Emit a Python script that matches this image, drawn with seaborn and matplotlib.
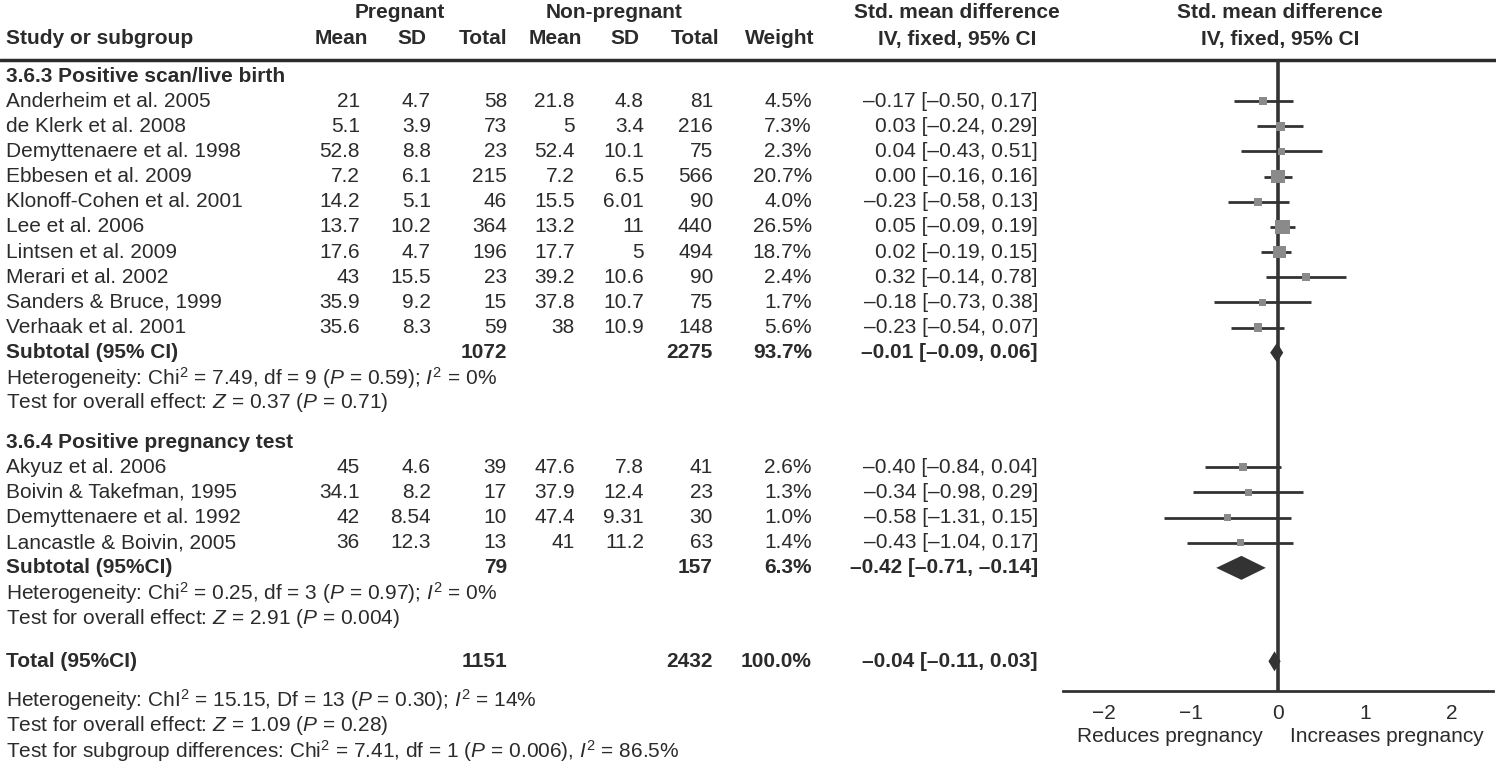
import matplotlib
matplotlib.use("Agg")
import matplotlib.pyplot as plt
import seaborn as sns
import pandas as pd

# ---------------------------------------------------------------- data
group_titles = ["3.6.3 Positive scan/live birth", "3.6.4 Positive pregnancy test"]

studies_a = ["Anderheim et al. 2005", "de Klerk et al. 2008", "Demyttenaere et al. 1998",
             "Ebbesen et al. 2009", "Klonoff-Cohen et al. 2001", "Lee et al. 2006",
             "Lintsen et al. 2009", "Merari et al. 2002", "Sanders & Bruce, 1999",
             "Verhaak et al. 2001"]
preg_mean_a = [21, 5.1, 52.8, 7.2, 14.2, 13.7, 17.6, 43, 35.9, 35.6]
preg_sd_a = [4.7, 3.9, 8.8, 6.1, 5.1, 10.2, 4.7, 15.5, 9.2, 8.3]
preg_n_a = [58, 73, 23, 215, 46, 364, 196, 23, 15, 59]
np_mean_a = [21.8, 5, 52.4, 7.2, 15.5, 13.2, 17.7, 39.2, 37.8, 38]
np_sd_a = [4.8, 3.4, 10.1, 6.5, 6.01, 11, 5, 10.6, 10.7, 10.9]
np_n_a = [81, 216, 75, 566, 90, 440, 494, 90, 75, 148]
weight_a = [4.5, 7.3, 2.3, 20.7, 4.0, 26.5, 18.7, 2.4, 1.7, 5.6]
smd_a = [-0.17, 0.03, 0.04, 0.00, -0.23, 0.05, 0.02, 0.32, -0.18, -0.23]
lo_a = [-0.50, -0.24, -0.43, -0.16, -0.58, -0.09, -0.19, -0.14, -0.73, -0.54]
hi_a = [0.17, 0.29, 0.51, 0.16, 0.13, 0.19, 0.15, 0.78, 0.38, 0.07]

studies_b = ["Akyuz et al. 2006", "Boivin & Takefman, 1995", "Demyttenaere et al. 1992",
             "Lancastle & Boivin, 2005"]
preg_mean_b = [45, 34.1, 42, 36]
preg_sd_b = [4.6, 8.2, 8.54, 12.3]
preg_n_b = [39, 17, 10, 13]
np_mean_b = [47.6, 37.9, 47.4, 41]
np_sd_b = [7.8, 12.4, 9.31, 11.2]
np_n_b = [41, 23, 30, 63]
weight_b = [2.6, 1.3, 1.0, 1.4]
smd_b = [-0.40, -0.34, -0.58, -0.43]
lo_b = [-0.84, -0.98, -1.31, -1.04]
hi_b = [0.04, 0.29, 0.15, 0.17]

sub_labels = ["Subtotal (95% CI)", "Subtotal (95%CI)"]
sub_preg_n = [1072, 79]
sub_np_n = [2275, 157]
sub_weight = [93.7, 6.3]
sub_smd = [-0.01, -0.42]
sub_lo = [-0.09, -0.71]
sub_hi = [0.06, -0.14]
sub_het = ["Heterogeneity: Chi$^{2}$ = 7.49, df = 9 ($P$ = 0.59); $I^{2}$ = 0%",
           "Heterogeneity: Chi$^{2}$ = 0.25, df = 3 ($P$ = 0.97); $I^{2}$ = 0%"]
sub_test = ["Test for overall effect: $Z$ = 0.37 ($P$ = 0.71)",
            "Test for overall effect: $Z$ = 2.91 ($P$ = 0.004)"]

total_label = "Total (95%CI)"
total_preg_n = 1151
total_np_n = 2432
total_weight = 100.0
total_smd, total_lo, total_hi = -0.04, -0.11, 0.03
total_notes = ["Heterogeneity: ChI$^{2}$ = 15.15, Df = 13 ($P$ = 0.30); $I^{2}$ = 14%",
               "Test for overall effect: $Z$ = 1.09 ($P$ = 0.28)",
               "Test for subgroup differences: Chi$^{2}$ = 7.41, df = 1 ($P$ = 0.006), $I^{2}$ = 86.5%"]

# ---------------------------------------------------------------- style
sns.set_style("white")
plt.rcParams["font.family"] = ["Liberation Sans", "DejaVu Sans"]
plt.rcParams["mathtext.fontset"] = "custom"
plt.rcParams["mathtext.rm"] = "Liberation Sans"
plt.rcParams["mathtext.it"] = "Liberation Sans:italic"
plt.rcParams["mathtext.bf"] = "Liberation Sans:bold"
INK = "#2b2b2b"
FS = 15

W, H = 1496, 766
fig = plt.figure(figsize=(W / 100, H / 100), dpi=100)
ax = fig.add_axes([0, 0, 1, 1])
ax.set_xlim(0, W)
ax.set_ylim(H, 0)
ax.axis("off")

# column right edges (pixels) for the table
cols = [360, 431, 507, 575, 644, 713, 812, 1038]
hdr_centers = [341, 412, 483, 555, 625, 695, 780, 957]


def fmt_ci(e, l, h):
    return f"{e:.2f} [{l:.2f}, {h:.2f}]".replace("-", "\u2013")


def put(x, y, s, ha="left", bold=False):
    ax.text(x, y, s, ha=ha, va="center", fontsize=FS, color=INK,
            fontweight="bold" if bold else "normal")


# header
put(400, 12, "Pregnant", ha="center", bold=True)
put(614, 12, "Non-pregnant", ha="center", bold=True)
put(957, 12, "Std. mean difference", ha="center", bold=True)
put(1280, 12, "Std. mean difference", ha="center", bold=True)
put(6, 39, "Study or subgroup", bold=True)
for c, lab in zip(hdr_centers, ["Mean", "SD", "Total", "Mean", "SD", "Total", "Weight",
                                "IV, fixed, 95% CI"]):
    put(c, 39, lab, ha="center", bold=True)
put(1280, 39, "IV, fixed, 95% CI", ha="center", bold=True)
ax.axhline(60, color=INK, lw=2.5)

# layout rows
pitch = 25.15
groups = [
    (studies_a, preg_mean_a, preg_sd_a, preg_n_a, np_mean_a, np_sd_a, np_n_a,
     weight_a, smd_a, lo_a, hi_a),
    (studies_b, preg_mean_b, preg_sd_b, preg_n_b, np_mean_b, np_sd_b, np_n_b,
     weight_b, smd_b, lo_b, hi_b),
]
study_rows = []
diamonds = []
y = 76
for g, (names, pm, psd, pn, nm, nsd, nn, wt, es, lo, hi) in enumerate(groups):
    put(6, y, group_titles[g], bold=True)
    y += pitch
    for i in range(len(names)):
        put(6, y, names[i])
        vals = [f"{pm[i]:g}", f"{psd[i]:g}", f"{pn[i]}", f"{nm[i]:g}", f"{nsd[i]:g}",
                f"{nn[i]}", f"{wt[i]:.1f}%", fmt_ci(es[i], lo[i], hi[i])]
        for c, v in zip(cols, vals):
            put(c, y, v, ha="right")
        study_rows.append({"y": y, "smd": es[i], "lo": lo[i], "hi": hi[i], "weight": wt[i]})
        y += pitch
    put(6, y, sub_labels[g], bold=True)
    for c, v in zip([cols[2], cols[5], cols[6], cols[7]],
                    [f"{sub_preg_n[g]}", f"{sub_np_n[g]}", f"{sub_weight[g]:.1f}%",
                     fmt_ci(sub_smd[g], sub_lo[g], sub_hi[g])]):
        put(c, y, v, ha="right", bold=True)
    diamonds.append((y, sub_smd[g], sub_lo[g], sub_hi[g]))
    y += pitch
    put(6, y, sub_het[g])
    y += pitch
    put(6, y, sub_test[g])
    y += pitch + 14

y += 4
put(6, y, total_label, bold=True)
for c, v in zip([cols[2], cols[5], cols[6], cols[7]],
                [f"{total_preg_n}", f"{total_np_n}", f"{total_weight:.1f}%",
                 fmt_ci(total_smd, total_lo, total_hi)]):
    put(c, y, v, ha="right", bold=True)
diamonds.append((y, total_smd, total_lo, total_hi))
y += 39
for note in total_notes:
    put(6, y, note)
    y += 25.5

# ---------------------------------------------------------------- forest panel
axis_y = 691
axf = fig.add_axes([1063 / W, 0, 430 / W, 1])
axf.patch.set_alpha(0)
axf.set_xlim(-2.47, 2.47)
axf.set_ylim(H, 0)
df = pd.DataFrame(study_rows)

axf.vlines(0, 60, axis_y, color="#333333", lw=2.6, zorder=1)
axf.hlines(df["y"], df["lo"], df["hi"], color="#333333", lw=2, zorder=2)
sns.scatterplot(data=df, x="smd", y="y", size="weight", sizes=(24, 112), marker="s",
                color="#8a8a8a", linewidth=0, legend=False, ax=axf, zorder=3)
for dy, est, l, h in diamonds:
    half = 12 if l < -0.5 else 10
    axf.fill([l, est, h, est], [dy, dy - half, dy, dy + half], color="#333333",
             lw=0, zorder=4)

for side in ["left", "right", "top"]:
    axf.spines[side].set_visible(False)
axf.spines["bottom"].set_position(("data", axis_y))
axf.spines["bottom"].set_color("#333333")
axf.spines["bottom"].set_linewidth(2)
axf.set_xticks([-2, -1, 0, 1, 2])
axf.set_yticks([])
axf.tick_params(axis="x", direction="inout", length=13, width=2, color="#333333",
                labelcolor=INK, labelsize=FS, pad=3)
axf.set_xlabel("")
axf.set_ylabel("")
axf.text(-1.24, 737, "Reduces pregnancy", ha="center", va="center", fontsize=FS, color=INK)
axf.text(1.25, 737, "Increases pregnancy", ha="center", va="center", fontsize=FS, color=INK)

fig.savefig("out.png", dpi=100)
